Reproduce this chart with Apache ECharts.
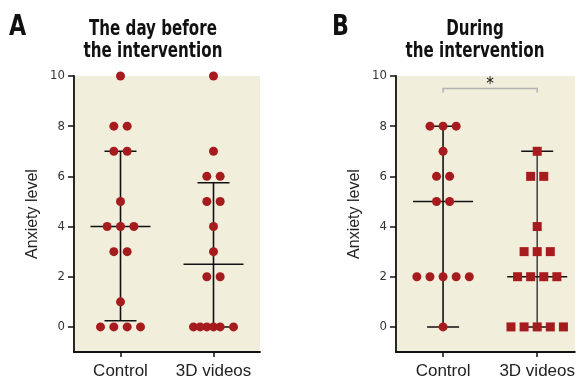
<!DOCTYPE html>
<html><head><meta charset="utf-8">
<script src="https://cdn.jsdelivr.net/npm/echarts@6/dist/echarts.min.js"></script>
<style>html,body{margin:0;padding:0;background:#fff}#c{width:578px;height:380px}</style>
</head><body><div id="c"></div>
<script>
const categories = ['Control', '3D videos'];
const yTicks = [0, 2, 4, 6, 8, 10];
// Panel A: the day before the intervention
const aControlValues = [10, 8, 8, 7, 7, 5, 4, 4, 4, 3, 3, 1, 0, 0, 0, 0];
const aControlSlots  = [0, -1, 1, -1, 1, 0, -2, 0, 2, -1, 1, 0, -3, -1, 1, 3];
const aVideoValues   = [10, 7, 6, 6, 5, 5, 4, 3, 2, 2, 0, 0, 0, 0, 0, 0];
const aVideoSlots    = [0, 0, -1, 1, -1, 1, 0, 0, -1, 1, -3, -2, -1, 0, 1, 3];
const aStats = [[4, 0.25, 7], [2.5, 0, 5.75]]; // median, low, high
// Panel B: during the intervention
const bControlValues = [8, 8, 8, 7, 6, 6, 5, 5, 2, 2, 2, 2, 2, 0];
const bControlSlots  = [-2, 0, 2, 0, -1, 1, -1, 1, -4, -2, 0, 2, 4, 0];
const bVideoValues   = [7, 6, 6, 4, 3, 3, 3, 2, 2, 2, 2, 0, 0, 0, 0, 0];
const bVideoSlots    = [0, -1, 1, 0, -2, 0, 2, -3, -1, 1, 3, -4, -2, 0, 2, 4];
const bStats = [[5, 0, 8], [2, 0, 7]];
const sigLabel = '*';
const sigLevel = 9.5;
const panelLetters = ['A', 'B'];
const panelTitles = ['The day before\nthe intervention', 'During\nthe intervention'];

const RED = '#a61b1d';
const BG = '#f2eedc';
const COND = '"DejaVu Sans Condensed", "DejaVu Sans", sans-serif';
const SANS = '"Liberation Sans", Arial, sans-serif';

function pts(values, slots, cat, step) {
  return values.map((v, i) => [cat + 0.5 + slots[i] * step, v]);
}
function statData(stats) {
  return stats.map((s, i) => [i + 0.5, s[0], s[1], s[2], i]);
}
function statRender(stemColors) {
  return function (params, api) {
    const x = api.value(0), med = api.value(1), lo = api.value(2), hi = api.value(3), idx = api.value(4);
    const pM = api.coord([x, med]), pL = api.coord([x, lo]), pH = api.coord([x, hi]);
    const st = { stroke: '#111', lineWidth: 1.5 };
    return {
      type: 'group', children: [
        { type: 'line', shape: { x1: pL[0], y1: pL[1], x2: pH[0], y2: pH[1] }, style: { stroke: stemColors[idx], lineWidth: 1.6 } },
        { type: 'line', shape: { x1: pM[0] - 30, y1: pM[1], x2: pM[0] + 30, y2: pM[1] }, style: st },
        { type: 'line', shape: { x1: pL[0] - 16, y1: pL[1], x2: pL[0] + 16, y2: pL[1] }, style: st },
        { type: 'line', shape: { x1: pH[0] - 16, y1: pH[1], x2: pH[0] + 16, y2: pH[1] }, style: st }
      ]
    };
  };
}
function xAxisCfg(idx, max) {
  return {
    type: 'value', gridIndex: idx, min: 0, max: max,
    splitLine: { show: false },
    axisLine: { onZero: false, lineStyle: { color: '#111', width: 1.8 } },
    axisTick: { customValues: [0.5, 1.5], length: 5, lineStyle: { color: '#111', width: 1.5 } },
    axisLabel: { customValues: [0.5, 1.5], formatter: v => categories[Math.round(v - 0.5)], fontFamily: SANS, fontSize: 17, color: '#222', margin: 11 }
  };
}
function yAxisCfg(idx) {
  return {
    type: 'value', gridIndex: idx, min: -1, max: 10,
    name: 'Anxiety level', nameLocation: 'middle', nameGap: 33,
    nameTextStyle: { fontFamily: SANS, fontSize: 16, color: '#222' },
    splitLine: { show: false },
    axisLine: { show: true, onZero: false, lineStyle: { color: '#111', width: 1.8 } },
    axisTick: { show: true, customValues: yTicks, length: 6, lineStyle: { color: '#111', width: 1.5 } },
    axisLabel: { customValues: yTicks, fontFamily: COND, fontSize: 13, color: '#333', margin: 9 }
  };
}
const stepA = 6.67 / 93, stepB = 6.67 / 95.8;

const option = {
  animation: false,
  graphic: [
    { type: 'text', x: 9, y: 13, scaleX: 0.85, style: { text: panelLetters[0], align: 'left', verticalAlign: 'top', font: 'bold 29px ' + COND, fill: '#111' } },
    { type: 'text', x: 332, y: 13, scaleX: 0.85, style: { text: panelLetters[1], align: 'left', verticalAlign: 'top', font: 'bold 29px ' + COND, fill: '#111' } },
    { type: 'text', x: 153, y: 19, scaleX: 0.8, style: { text: panelTitles[0], align: 'center', verticalAlign: 'top', font: 'bold 21px ' + COND, lineHeight: 22, fill: '#111' } },
    { type: 'text', x: 475, y: 19, scaleX: 0.8, style: { text: panelTitles[1], align: 'center', verticalAlign: 'top', font: 'bold 21px ' + COND, lineHeight: 22, fill: '#111' } }
  ],
  grid: [
    { left: 74, top: 76, width: 186, bottom: 23, show: true, backgroundColor: BG, borderWidth: 0 },
    { left: 396, top: 76, width: 182, bottom: 23, show: true, backgroundColor: BG, borderWidth: 0 }
  ],
  xAxis: [xAxisCfg(0, 2), xAxisCfg(1, 1.9)],
  yAxis: [yAxisCfg(0), yAxisCfg(1)],
  series: [
    { type: 'custom', xAxisIndex: 0, yAxisIndex: 0, data: statData(aStats), renderItem: statRender(['#111', '#111']), z: 1 },
    { type: 'custom', xAxisIndex: 1, yAxisIndex: 1, data: statData(bStats), renderItem: statRender(['#111', '#4a4a4a']), z: 1 },
    { type: 'scatter', xAxisIndex: 0, yAxisIndex: 0, data: pts(aControlValues, aControlSlots, 0, stepA), symbol: 'circle', symbolSize: 9, itemStyle: { color: RED, opacity: 1 }, z: 3 },
    { type: 'scatter', xAxisIndex: 0, yAxisIndex: 0, data: pts(aVideoValues, aVideoSlots, 1, stepA), symbol: 'circle', symbolSize: 9, itemStyle: { color: RED, opacity: 1 }, z: 3 },
    { type: 'scatter', xAxisIndex: 1, yAxisIndex: 1, data: pts(bControlValues, bControlSlots, 0, stepB), symbol: 'circle', symbolSize: 9, itemStyle: { color: RED, opacity: 1 }, z: 3 },
    { type: 'scatter', xAxisIndex: 1, yAxisIndex: 1, data: pts(bVideoValues, bVideoSlots, 1, stepB), symbol: 'rect', symbolSize: 9, itemStyle: { color: RED, opacity: 1 }, z: 3 },
    { type: 'custom', xAxisIndex: 1, yAxisIndex: 1, data: [[0.5, 1.5, sigLevel]], z: 2,
      renderItem: function (params, api) {
        const a = api.coord([api.value(0), api.value(2)]);
        const b = api.coord([api.value(1), api.value(2)]);
        return { type: 'group', children: [
          { type: 'polyline', shape: { points: [[a[0], a[1] + 4], a, b, [b[0], b[1] + 4]] }, style: { stroke: '#b4b4b4', lineWidth: 1.5, fill: null } },
          { type: 'text', style: { text: sigLabel, x: (a[0] + b[0]) / 2, y: a[1] - 4, align: 'center', verticalAlign: 'middle', fontSize: 17, fontFamily: COND, fill: '#111' } }
        ] };
      } }
  ]
};
const chart = echarts.init(document.getElementById('c'), null, { renderer: 'canvas' });
chart.setOption(option);
</script></body></html>
